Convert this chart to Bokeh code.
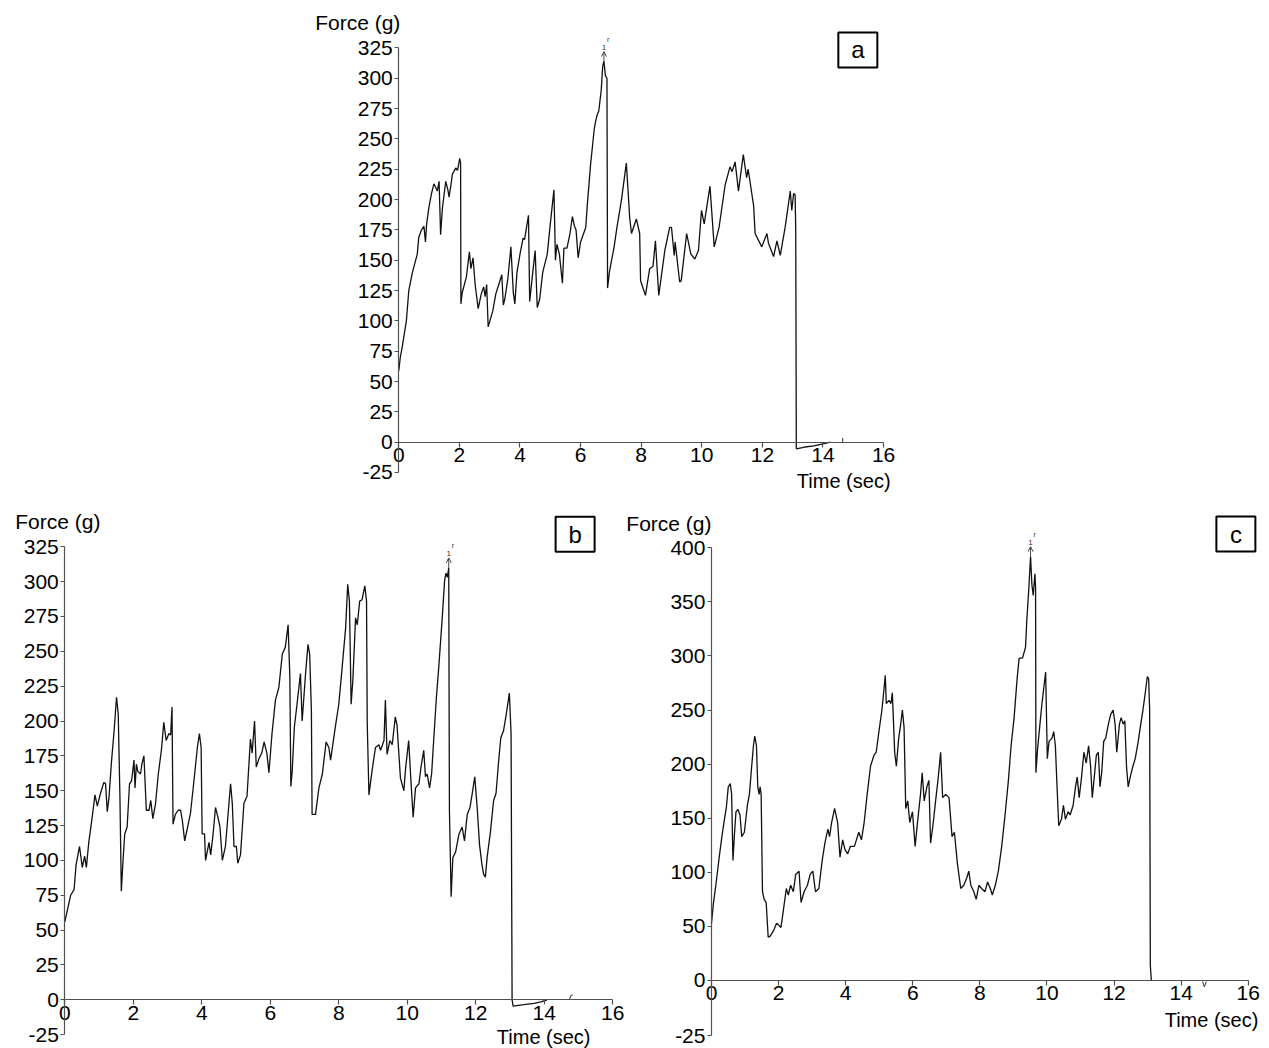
import numpy as np
from bokeh.plotting import figure
from bokeh.layouts import column, row
from bokeh.models import FixedTicker, Spacer, Label, Arrow, OpenHead
from bokeh.embed import file_html
from bokeh.resources import INLINE
from bokeh.core.properties import value

FONT = "Liberation Sans"

# ---------------- data ----------------
x_ticks = [0, 2, 4, 6, 8, 10, 12, 14, 16]
ab_y_ticks = [-25, 0, 25, 50, 75, 100, 125, 150, 175, 200, 225, 250, 275, 300, 325]
ab_y_labels = [str(v) for v in ab_y_ticks]
c_y_ticks = [-51, 0, 50, 100, 150, 200, 250, 300, 350, 400]
c_y_labels = ["-25", "0", "50", "100", "150", "200", "250", "300", "350", "400"]

a_time = [0, 0.05, 0.11, 0.25, 0.33, 0.45, 0.61, 0.66, 0.75, 0.83,
          0.88, 0.92, 0.99, 1.08, 1.16, 1.22, 1.27, 1.33, 1.38, 1.44,
          1.55, 1.62, 1.66, 1.72, 1.77, 1.88, 1.94, 2.01, 2.04, 2.05,
          2.09, 2.23, 2.33, 2.38, 2.45, 2.52, 2.62, 2.72, 2.80, 2.85,
          2.90, 2.95, 3.10, 3.20, 3.30, 3.40, 3.45, 3.50, 3.60, 3.70,
          3.78, 3.83, 3.90, 4.00, 4.10, 4.15, 4.28, 4.32, 4.40, 4.50,
          4.57, 4.65, 4.75, 4.90, 5.00, 5.12, 5.17, 5.22, 5.30, 5.40,
          5.45, 5.55, 5.65, 5.73, 5.80, 5.85, 5.92, 6.00, 6.17, 6.22,
          6.33, 6.45, 6.50, 6.55, 6.60, 6.68, 6.73, 6.77, 6.82, 6.87,
          6.89, 6.95, 7.00, 7.10, 7.20, 7.35, 7.51, 7.56, 7.62, 7.68,
          7.84, 7.95, 7.98, 8.14, 8.28, 8.39, 8.47, 8.58, 8.78, 8.94,
          9.00, 9.09, 9.12, 9.27, 9.32, 9.50, 9.64, 9.77, 9.89, 9.99,
          10.08, 10.27, 10.41, 10.57, 10.77, 10.93, 11.00, 11.10, 11.21, 11.37,
          11.48, 11.53, 11.71, 11.76, 11.98, 12.15, 12.20, 12.37, 12.48, 12.59,
          12.75, 12.92, 12.97, 13.03, 13.08, 13.10, 13.12, 13.4, 13.7, 14.0,
          14.24]
a_force = [59, 70, 78, 100, 125, 140, 155, 169, 175, 178,
           165, 180, 193, 205, 213, 210, 207, 215, 171, 193,
           215, 208, 202, 212, 221, 226, 224, 234, 230, 114,
           123, 136, 157, 143, 152, 130, 110, 122, 128, 120,
           130, 95, 108, 122, 130, 138, 113, 118, 135, 161,
           123, 114, 140, 155, 168, 167, 187, 116, 135, 158,
           111, 118, 140, 155, 180, 208, 150, 163, 155, 131,
           160, 160, 172, 186, 178, 175, 152, 165, 177, 195,
           229, 258, 265, 270, 273, 290, 310, 314, 302, 300,
           127, 140, 147, 160, 177, 200, 230, 210, 185, 172,
           184, 172, 133, 121, 143, 145, 166, 121, 158, 177,
           177, 154, 165, 132, 133, 172, 155, 151, 158, 191,
           180, 211, 161, 177, 212, 227, 223, 231, 207, 237,
           218, 225, 195, 172, 161, 172, 164, 153, 166, 154,
           177, 207, 191, 205, 204, 176, -5.5, -4, -3, -1.5,
           0]

b_time = [0, 0.17, 0.27, 0.33, 0.43, 0.51, 0.58, 0.63, 0.70, 0.80,
          0.88, 0.95, 1.04, 1.14, 1.19, 1.24, 1.29, 1.36, 1.44, 1.51,
          1.56, 1.61, 1.65, 1.70, 1.75, 1.82, 1.89, 1.95, 2.02, 2.05,
          2.09, 2.13, 2.21, 2.25, 2.31, 2.38, 2.46, 2.51, 2.57, 2.65,
          2.73, 2.82, 2.89, 2.96, 3.04, 3.09, 3.13, 3.16, 3.23, 3.31,
          3.38, 3.43, 3.50, 3.57, 3.67, 3.77, 3.87, 3.93, 3.98, 4.01,
          4.08, 4.11, 4.21, 4.26, 4.33, 4.40, 4.47, 4.53, 4.60, 4.69,
          4.77, 4.84, 4.89, 4.94, 5.01, 5.05, 5.13, 5.23, 5.32, 5.42,
          5.47, 5.54, 5.59, 5.67, 5.75, 5.82, 5.90, 5.96, 6.05, 6.15,
          6.25, 6.35, 6.44, 6.52, 6.57, 6.60, 6.64, 6.70, 6.78, 6.88,
          6.93, 7.03, 7.10, 7.15, 7.20, 7.22, 7.32, 7.42, 7.52, 7.63,
          7.71, 7.76, 7.90, 8.00, 8.10, 8.20, 8.26, 8.31, 8.36, 8.41,
          8.49, 8.54, 8.61, 8.68, 8.76, 8.81, 8.83, 8.88, 8.97, 9.07,
          9.17, 9.22, 9.32, 9.36, 9.41, 9.49, 9.56, 9.65, 9.70, 9.80,
          9.90, 9.95, 10.04, 10.09, 10.17, 10.24, 10.34, 10.40, 10.48, 10.53,
          10.58, 10.65, 10.71, 10.77, 10.85, 10.92, 11.02, 11.09, 11.13, 11.17,
          11.21, 11.23, 11.28, 11.33, 11.41, 11.51, 11.60, 11.67, 11.75, 11.83,
          11.89, 11.97, 12.04, 12.11, 12.18, 12.23, 12.28, 12.33, 12.43, 12.52,
          12.59, 12.67, 12.73, 12.81, 12.89, 12.98, 13.03, 13.06, 13.09, 13.4,
          13.7, 13.9, 14.08]
b_force = [56, 75, 79, 97, 110, 95, 103, 95, 113, 131,
           147, 139, 148, 156, 155, 135, 145, 170, 193, 217,
           205, 145, 78, 100, 119, 124, 155, 157, 172, 152,
           169, 164, 162, 169, 175, 136, 136, 143, 130, 141,
           162, 179, 199, 186, 191, 190, 210, 126, 133, 136,
           136, 129, 114, 122, 134, 157, 181, 191, 181, 119,
           119, 100, 113, 104, 119, 138, 131, 124, 100, 110,
           134, 155, 141, 110, 110, 98, 104, 141, 146, 187,
           177, 200, 167, 173, 177, 185, 177, 163, 191, 215,
           224, 248, 253, 269, 232, 153, 164, 195, 212, 234,
           200, 234, 255, 248, 207, 133, 133, 152, 162, 185,
           181, 172, 196, 212, 239, 267, 298, 286, 212, 229,
           274, 269, 286, 287, 297, 286, 199, 147, 164, 181,
           183, 179, 186, 215, 176, 186, 183, 203, 197, 159,
           150, 166, 186, 164, 131, 152, 155, 167, 179, 160,
           162, 152, 162, 186, 217, 239, 274, 301, 306, 303,
           310, 136, 74, 102, 106, 119, 124, 114, 133, 138,
           147, 160, 138, 111, 97, 90, 88, 102, 121, 143,
           148, 172, 188, 193, 205, 220, 191, 0, -4.5, -3.5,
           -2.5, -1.5, 0]

c_time = [0, 0.06, 0.13, 0.23, 0.31, 0.38, 0.44, 0.50, 0.56, 0.60,
          0.64, 0.68, 0.73, 0.79, 0.85, 0.90, 0.98, 1.07, 1.13, 1.19,
          1.25, 1.29, 1.34, 1.38, 1.42, 1.45, 1.48, 1.52, 1.57, 1.63,
          1.69, 1.75, 1.85, 1.94, 2.07, 2.13, 2.23, 2.29, 2.36, 2.44,
          2.51, 2.61, 2.67, 2.76, 2.86, 2.94, 3.02, 3.10, 3.20, 3.30,
          3.38, 3.47, 3.52, 3.58, 3.67, 3.76, 3.83, 3.91, 3.98, 4.06,
          4.14, 4.26, 4.39, 4.47, 4.55, 4.64, 4.74, 4.84, 4.91, 4.99,
          5.08, 5.14, 5.18, 5.21, 5.29, 5.35, 5.39, 5.42, 5.46, 5.51,
          5.58, 5.64, 5.69, 5.74, 5.79, 5.85, 5.91, 5.99, 6.07, 6.14,
          6.23, 6.28, 6.34, 6.42, 6.48, 6.53, 6.60, 6.68, 6.75, 6.83,
          6.89, 6.98, 7.08, 7.17, 7.24, 7.33, 7.43, 7.52, 7.61, 7.67,
          7.73, 7.82, 7.89, 7.97, 8.05, 8.15, 8.23, 8.31, 8.37, 8.46,
          8.55, 8.65, 8.75, 8.85, 8.93, 9.02, 9.11, 9.17, 9.27, 9.36,
          9.40, 9.46, 9.51, 9.55, 9.59, 9.64, 9.66, 9.67, 9.72, 9.79,
          9.85, 9.91, 9.96, 10.01, 10.06, 10.15, 10.20, 10.25, 10.30, 10.35,
          10.43, 10.49, 10.55, 10.63, 10.69, 10.78, 10.85, 10.90, 10.96, 11.03,
          11.10, 11.17, 11.24, 11.30, 11.35, 11.40, 11.47, 11.53, 11.58, 11.63,
          11.69, 11.75, 11.83, 11.90, 11.97, 12.03, 12.08, 12.16, 12.21, 12.27,
          12.32, 12.37, 12.42, 12.48, 12.56, 12.63, 12.72, 12.78, 12.86, 12.93,
          12.99, 13.03, 13.06, 13.08, 13.11]
c_force = [53, 72, 88, 114, 133, 148, 159, 179, 182, 172,
           111, 133, 156, 158, 153, 133, 137, 162, 172, 195,
           217, 226, 217, 179, 172, 179, 172, 82, 75, 72,
           40, 41, 46, 53, 49, 62, 85, 79, 88, 82,
           98, 101, 72, 82, 88, 98, 101, 82, 85, 111,
           127, 140, 133, 146, 159, 146, 114, 130, 121, 117,
           124, 124, 137, 130, 146, 172, 198, 208, 211, 230,
           250, 269, 282, 256, 259, 256, 266, 243, 211, 198,
           224, 237, 250, 234, 159, 166, 146, 156, 124, 146,
           172, 192, 166, 179, 185, 127, 143, 166, 185, 211,
           169, 172, 169, 133, 137, 108, 85, 88, 95, 101,
           88, 82, 75, 88, 85, 82, 91, 85, 79, 88,
           101, 124, 153, 185, 217, 243, 279, 298, 298, 308,
           334, 363, 392, 366, 356, 376, 363, 192, 214, 237,
           256, 272, 285, 205, 221, 224, 230, 217, 179, 143,
           149, 162, 149, 156, 153, 162, 179, 188, 169, 188,
           211, 201, 217, 198, 169, 185, 208, 211, 179, 192,
           221, 224, 237, 246, 250, 237, 211, 237, 243, 237,
           240, 198, 179, 188, 198, 205, 221, 234, 250, 266,
           281, 279, 250, 14, 0]

# small stray marks near the end of each record
a_mark_time, a_mark_force = [14.65, 14.65], [0, 3.5]
b_mark_time, b_mark_force = [14.74, 14.77, 14.83], [0.5, 3, 3.5]
c_mark_time, c_mark_force = [14.64, 14.69, 14.75], [-1, -6, -1]

assert len(a_time) == len(a_force)
assert len(b_time) == len(b_force)
assert len(c_time) == len(c_force)

AXIS_COLOR = "#505050"


def panel(time, force, mark_t, mark_f, width, height, xr, yr, y_ticks, y_labels,
          letter, box_xy, force_xy, time_xy, font_px, arrow_len):
    p = figure(width=width, height=height, x_range=xr, y_range=yr,
               output_backend="svg", toolbar_location=None, title=None,
               min_border=0)
    p.min_border_left = p.min_border_right = 0
    p.min_border_top = p.min_border_bottom = 0
    p.outline_line_color = None
    p.grid.visible = False
    p.background_fill_color = "white"
    p.border_fill_color = "white"

    xa = p.xaxis[0]
    ya = p.yaxis[0]
    xa.fixed_location = 0
    ya.fixed_location = 0
    xa.bounds = (x_ticks[0], x_ticks[-1])
    ya.bounds = (y_ticks[0], y_ticks[-1])
    xa.ticker = FixedTicker(ticks=x_ticks, minor_ticks=[])
    ya.ticker = FixedTicker(ticks=y_ticks, minor_ticks=[])
    ya.major_label_overrides = {t: l for t, l in zip(y_ticks, y_labels)}
    for ax in (xa, ya):
        ax.axis_line_color = AXIS_COLOR
        ax.axis_line_width = 1.2
        ax.major_tick_line_color = AXIS_COLOR
        ax.major_tick_line_width = 1.2
        ax.major_tick_in = 0
        ax.minor_tick_line_color = None
        ax.major_label_text_font = FONT
        ax.major_label_text_font_size = f"{font_px}px"
        ax.major_label_text_color = "black"
    xa.major_tick_out = 5
    ya.major_tick_out = 4
    xa.major_label_standoff = 1
    ya.major_label_standoff = 2

    p.line(time, force, line_color="#111111", line_width=1.3)
    p.line(mark_t, mark_f, line_color="#333333", line_width=1)

    # peak marker
    i = int(np.argmax(force))
    pt, pv = time[i], force[i]
    p.add_layout(Arrow(end=OpenHead(size=5, line_width=1, line_color="#444444"),
                       x_start=pt, y_start=pv, x_end=pt, y_end=pv + arrow_len,
                       line_width=1, line_color="#444444"))
    p.text(x=[pt], y=[pv + arrow_len], text=["1"], text_font=value(FONT),
           text_font_size="8px", text_align="center", text_baseline="bottom",
           y_offset=-2, text_color="#333333")
    p.text(x=[pt], y=[pv + arrow_len], text=["r"], text_font=value(FONT),
           text_font_size="7px", text_align="left", text_baseline="bottom",
           x_offset=3, y_offset=-9, text_color="#333333")

    # panel letter in a box
    p.rect(x=[box_xy[0]], y=[box_xy[1]], width=39, height=35,
           width_units="screen", height_units="screen",
           fill_color="white", line_color="black", line_width=2)
    p.add_layout(Label(x=box_xy[0], y=box_xy[1], text=letter, text_font=FONT,
                       text_font_size="24px", text_align="center",
                       text_baseline="middle", text_color="black"))

    p.add_layout(Label(x=force_xy[0], y=force_xy[1], text="Force (g)", text_font=FONT,
                       text_font_size="21px", text_align="right",
                       text_baseline="middle", text_color="black"))
    p.add_layout(Label(x=time_xy[0], y=time_xy[1], text="Time (sec)", text_font=FONT,
                       text_font_size="20px", text_align="right",
                       text_baseline="middle", text_color="black"))
    return p


pa = panel(a_time, a_force, a_mark_time, a_mark_force, 610, 484,
           (-3.244, 16.888), (-41.5, 357.5), ab_y_ticks, ab_y_labels,
           "a", (15.15, 323.3), (0.05, 346), (16.23, -32.4), 21, 8)
pb = panel(b_time, b_force, b_mark_time, b_mark_force, 617, 556,
           (-1.644, 16.371), (-34.9, 363.9), ab_y_ticks, ab_y_labels,
           "b", (14.9, 334), (1.04, 343), (15.35, -27), 21, 7)
pc = panel(c_time, c_force, c_mark_time, c_mark_force, 640, 556,
           (-2.563, 16.513), (-62.9, 451.1), c_y_ticks, c_y_labels,
           "c", (15.63, 412.7), (0.0, 422.5), (16.3, -37), 21, 9)

inner = column(row(Spacer(width=292, height=484), pa), row(pb, pc))
layout = column(Spacer(width=10, height=8), row(Spacer(width=8, height=10), inner))

open("out.html", "w").write(file_html(layout, INLINE))
